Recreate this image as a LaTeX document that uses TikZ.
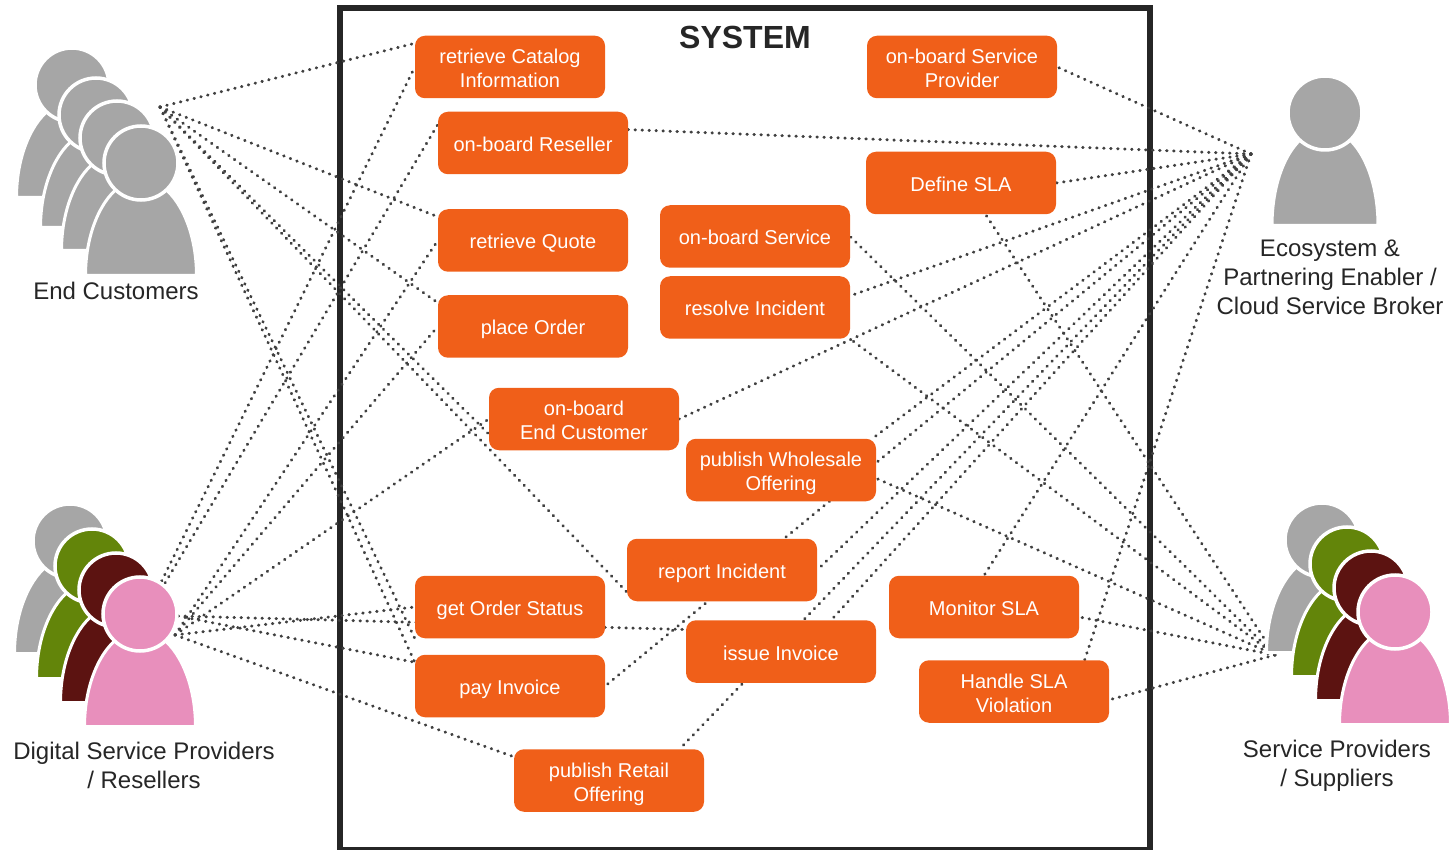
\documentclass[tikz,border=0pt]{standalone}
\usepackage{fontspec}
\setmainfont{Liberation Sans}
\usetikzlibrary{backgrounds}

\definecolor{boxorange}{RGB}{240,95,25}
\definecolor{inkgray}{RGB}{38,38,38}
\definecolor{dotgray}{RGB}{64,64,64}
\definecolor{pgray}{RGB}{166,166,166}
\definecolor{pgreen}{RGB}{99,133,10}
\definecolor{pred}{RGB}{92,19,17}
\definecolor{ppink}{RGB}{232,143,188}

\tikzset{
  usecase/.style={fill=boxorange, text=white, rounded corners=10pt, minimum width=190pt, minimum height=62.5pt,
    inner sep=0pt, align=center, font=\fontsize{20}{24}\selectfont,
    execute at end node={\rule[-5pt]{0pt}{27pt}}},
  twolines/.style={usecase, execute at end node={\rule[-5pt]{0pt}{15pt}}},
  actorlabel/.style={text=inkgray, align=center, font=\fontsize{24}{29}\selectfont},
  dotline/.style={draw=dotgray, line width=3pt, line cap=round, dash pattern=on 0.5pt off 6.5pt},
}

% first line of a two line box
\newcommand{\tallstrut}{\rule{0pt}{22pt}}

% one person: head centre, colour, optional half width of the body
\newcommand{\person}[4][55.5]{
  \filldraw[fill=#4, draw=white, line width=3pt] (#2-#1,#3+112.5) .. controls (#2-#1,#3+59) and (#2-30,#3+16) .. (#2,#3+16)
    .. controls (#2+30,#3+16) and (#2+#1,#3+59) .. (#2+#1,#3+112.5) -- cycle;
  \filldraw[fill=#4, draw=white, line width=3.5pt] (#2,#3) circle[radius=37];
}

\begin{document}
\begin{tikzpicture}[x=1pt, y=-1pt]
  \useasboundingbox (0,0) rectangle (1449,850);

  % Hubs where the dotted lines meet
  \coordinate (ec) at (160,107);
  \coordinate (dsp) at (175,635);
  \coordinate (dsptop) at (140,625);
  \coordinate (dspflat) at (178,616);
  \coordinate (eco) at (1251,154);
  \coordinate (sp) at (1275,655);

  % Use cases
  \node[twolines] (catalog) at (510,67) {\tallstrut retrieve Catalog\\Information};
  \node[twolines] (provider) at (962,67) {\tallstrut on-board Service\\Provider};
  \node[usecase] (reseller) at (533,143) {on-board Reseller};
  \node[usecase] (definesla) at (961,183) {Define SLA};
  \node[usecase] (quote) at (533,240.5) {retrieve Quote};
  \node[usecase] (service) at (755,236.5) {on-board Service};
  \node[usecase] (resolve) at (755,307.5) {resolve Incident};
  \node[usecase] (order) at (533,326.5) {place Order};
  \node[twolines] (endcust) at (584,419) {\tallstrut on-board\\End Customer};
  \node[twolines] (wholesale) at (781,470) {\tallstrut publish Wholesale\\Offering};
  \node[usecase] (report) at (722,570) {report Incident};
  \node[usecase] (status) at (510,607) {get Order Status};
  \node[usecase] (monitor) at (984,607) {Monitor SLA};
  \node[usecase] (issue) at (781,651.5) {issue Invoice};
  \node[usecase] (pay) at (510,686) {pay Invoice};
  \node[twolines] (handle) at (1014,691.5) {\tallstrut Handle SLA\\Violation};
  \node[twolines] (retail) at (609,780.5) {\tallstrut publish Retail\\Offering};

  \node[text=inkgray, font=\bfseries\fontsize{32}{36}\selectfont] (title) at (745,37) {SYSTEM};

  \begin{pgfonlayer}{background}
    % System border
    \draw[inkgray, line width=6pt] (340,8) rectangle (1150,850);
    % Dotted lines go under the boxes
    \foreach \a/\b in {ec/catalog.166, ec/quote.166, ec/order.166, ec/endcust.189, ec/report.193, ec/status.south west, ec/pay.166,
      dsptop/catalog.west, dsptop/reseller.169, dsp/quote.west, dsp/order.west, dsp/endcust.west, dsp/status.west,
      dspflat/issue.167, dspflat/pay.166, dsp/retail.166,
      eco/provider.east, eco/reseller.8, eco/definesla.east, eco/resolve.7, eco/endcust.east, eco/wholesale.19, eco/pay.east,
      eco/report.east, eco/retail.24, eco/issue.32, eco/monitor.north, eco/handle.24,
      sp/service.east, sp/resolve.south east, sp/definesla.308, sp/wholesale.355, sp/monitor.354, sp/handle.355} {
      \draw[dotline] (\a) -- (\b);
    }
  \end{pgfonlayer}

  % People
  \foreach \x/\y in {72/85, 96/115, 117/138, 141/163} {
    \person{\x}{\y}{pgray}
  }
  \foreach \x/\y/\c in {70/541/pgray, 92/566/pgreen, 116/590/pred, 140/614/ppink} {
    \person{\x}{\y}{\c}
  }
  \foreach \x/\y/\c in {1322/540/pgray, 1347/564/pgreen, 1371/588/pred, 1395/612/ppink} {
    \person{\x}{\y}{\c}
  }
  \person[53]{1325}{113}{pgray}

  \node[actorlabel] (eclabel) at (116,291) {End Customers};
  \node[actorlabel] (dsplabel) at (144,765) {Digital Service Providers\\/ Resellers};
  \node[actorlabel] (ecolabel) at (1330,277) {Ecosystem \&\\Partnering Enabler /\\Cloud Service Broker};
  \node[actorlabel] (splabel) at (1337,766) {Service Providers\\/ Suppliers};
\end{tikzpicture}
\end{document}
